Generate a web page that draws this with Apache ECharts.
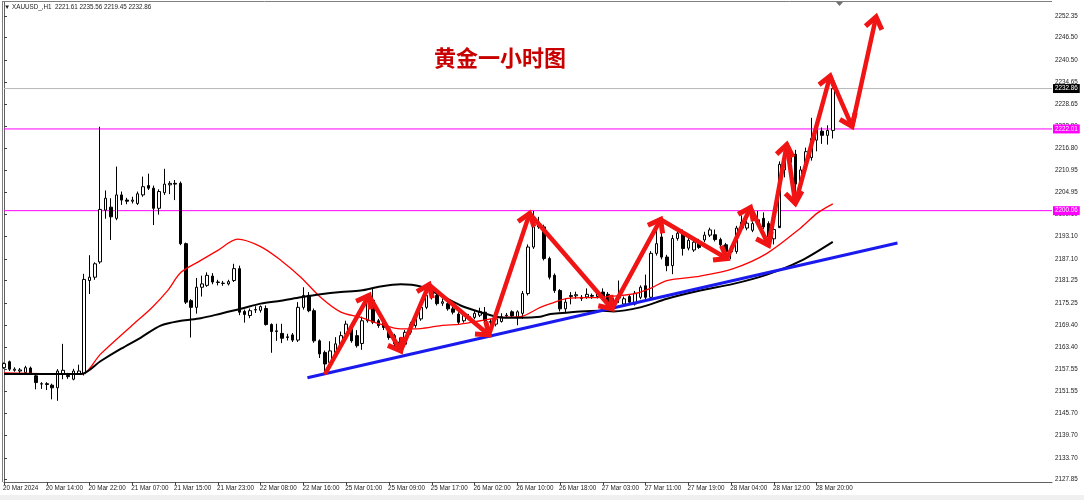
<!DOCTYPE html>
<html>
<head>
<meta charset="utf-8">
<script src="https://cdn.jsdelivr.net/npm/echarts@6/dist/echarts.min.js"></script>
<style>
html,body{margin:0;padding:0;background:#fff;}
#c{width:1084px;height:500px;}
</style>
</head>
<body>
<div id="c"></div>
<script>
// ---- data ----
const openP = [2157.9,2159.5,2157.2,2157.0,2156.6,2157.8,2155.7,2153.5,2153.6,2153.2,
2152.5,2156.3,2155.8,2154.8,2156.3,2156.3,2181.3,2182.2,2186.3,2200.2,
2201.0,2198.0,2204.3,2202.9,2202.6,2202.0,2204.3,2206.8,2206.1,2200.7,
2204.9,2207.0,2207.4,2207.4,2191.2,2175.9,2174.1,2179.5,2180.0,2182.5,
2180.9,2180.5,2180.4,2181.3,2184.5,2173.0,2171.9,2173.4,2173.3,2173.8,
2169.5,2167.6,2167.1,2166.0,2166.7,2165.3,2174.1,2177.3,2173.2,2165.1,
2162.0,2159.3,2162.0,2163.8,2166.9,2168.3,2166.5,2164.4,2170.5,2176.0,
2170.5,2170.1,2168.3,2166.5,2164.5,2164.2,2167.4,2169.2,2171.0,2174.1,
2178.6,2177.3,2175.2,2175.1,2173.7,2172.3,2170.5,2171.4,2171.4,2172.0,
2172.8,2170.1,2169.6,2170.3,2171.8,2172.9,2171.5,2172.5,2177.8,2190.3,
2197.0,2195.7,2187.2,2182.7,2178.6,2173.7,2177.0,2177.2,2176.8,2176.9,
2177.3,2177.0,2178.2,2177.6,2175.5,2176.6,2175.0,2177.0,2175.0,2176.8,
2179.9,2176.8,2188.6,2193.0,2187.6,2185.3,2192.6,2193.9,2190.0,2189.5,
2191.8,2192.2,2193.5,2193.6,2192.3,2190.9,2189.0,2189.1,2195.4,2195.4,
2194.8,2196.7,2198.0,2196.6,2192.5,2195.5,2211.0,2213.0,2215.2,2207.2,
2212.5,2214.3,2219.0,2221.4,2220.3,2221.61];
const closeP = [2159.0,2157.5,2157.5,2157.3,2157.9,2156.5,2153.9,2153.6,2153.4,2152.5,
2157.0,2157.2,2155.5,2157.0,2157.0,2181.6,2182.2,2185.8,2200.4,2203.4,
2198.4,2204.3,2202.9,2202.6,2202.9,2204.6,2206.5,2206.1,2200.7,2205.2,
2207.2,2207.4,2207.2,2191.2,2175.5,2174.1,2179.5,2180.4,2182.7,2180.9,
2180.8,2180.6,2181.0,2184.5,2172.8,2172.2,2173.2,2173.5,2174.3,2169.5,
2167.6,2167.8,2165.8,2166.2,2165.3,2174.1,2177.3,2173.2,2165.1,2161.6,
2158.9,2162.4,2164.3,2166.5,2169.6,2165.1,2163.8,2170.5,2176.4,2170.1,
2169.2,2168.7,2166.0,2164.3,2164.8,2167.4,2169.6,2171.4,2174.1,2177.3,
2176.8,2175.1,2175.6,2173.7,2172.8,2170.1,2171.9,2171.6,2172.5,2173.0,
2170.5,2170.3,2171.0,2171.6,2172.0,2171.8,2172.9,2177.8,2190.3,2195.7,
2195.7,2187.2,2182.2,2178.6,2173.7,2175.5,2177.3,2177.5,2176.5,2177.6,
2177.1,2177.9,2177.0,2175.5,2175.8,2176.9,2176.4,2175.5,2177.9,2179.5,
2176.8,2188.6,2191.2,2187.6,2185.3,2192.6,2194.0,2189.9,2192.1,2191.6,
2190.2,2193.5,2194.9,2192.3,2190.9,2189.1,2189.6,2195.4,2197.0,2196.7,
2196.6,2197.6,2195.7,2193.0,2195.0,2212.5,2213.3,2214.9,2207.2,2211.0,
2215.9,2219.5,2221.8,2220.3,2221.6,2232.86];
const lowP = [2157.6,2157.0,2156.8,2156.4,2156.2,2156.0,2152.1,2152.2,2151.9,2149.4,
2149.0,2154.8,2154.9,2154.5,2156.0,2155.8,2177.7,2181.5,2185.8,2197.9,
2192.2,2197.5,2201.6,2201.8,2202.0,2201.6,2203.8,2205.6,2196.2,2199.0,
2204.3,2204.5,2202.9,2190.8,2175.0,2166.0,2172.4,2177.0,2179.6,2180.3,
2180.0,2179.9,2180.0,2180.9,2172.0,2170.0,2171.2,2172.6,2172.7,2169.2,
2161.9,2165.1,2164.5,2165.2,2164.8,2164.8,2173.5,2172.8,2164.6,2160.5,
2157.0,2158.5,2161.5,2163.3,2166.3,2164.6,2163.3,2162.7,2170.0,2169.6,
2168.6,2168.0,2165.4,2163.5,2163.0,2163.5,2166.8,2168.6,2170.5,2173.6,
2176.2,2174.6,2174.5,2173.2,2172.2,2169.6,2170.0,2170.8,2170.9,2171.5,
2170.0,2169.0,2169.0,2170.0,2171.2,2171.3,2169.3,2171.0,2177.3,2189.8,
2195.2,2186.7,2181.6,2178.0,2173.0,2172.8,2174.9,2176.4,2175.8,2176.4,
2176.4,2176.5,2176.4,2174.9,2174.6,2175.3,2174.5,2175.0,2174.6,2176.3,
2176.3,2176.3,2188.0,2187.0,2183.8,2183.0,2192.0,2188.0,2189.4,2189.0,
2189.8,2191.6,2193.0,2191.8,2190.4,2187.6,2187.0,2188.5,2194.8,2194.8,
2194.3,2196.0,2195.1,2192.0,2191.0,2196.0,2209.0,2212.0,2205.0,2203.6,
2211.0,2213.5,2216.0,2218.0,2217.8,2219.45];
const highP = [2159.3,2159.8,2158.0,2157.8,2158.4,2158.2,2156.2,2154.0,2154.0,2153.6,
2157.5,2164.3,2156.5,2157.6,2158.7,2183.1,2188.1,2186.2,2222.6,2205.5,
2203.4,2211.9,2205.2,2203.5,2203.8,2205.2,2209.2,2210.0,2206.8,2205.8,
2211.3,2208.0,2208.3,2207.9,2191.5,2176.3,2182.0,2182.6,2183.5,2183.3,
2181.5,2181.2,2181.5,2185.8,2185.3,2173.5,2173.8,2174.4,2174.6,2174.6,
2169.8,2169.7,2169.7,2167.0,2167.2,2175.5,2179.5,2178.2,2173.8,2165.5,
2162.5,2165.0,2166.1,2167.6,2170.5,2169.8,2168.0,2171.6,2177.5,2179.0,
2171.0,2170.6,2168.8,2167.0,2166.0,2168.0,2170.2,2172.0,2174.8,2178.2,
2179.4,2177.9,2176.5,2175.8,2174.2,2172.8,2172.4,2172.3,2173.4,2174.0,
2174.2,2171.0,2171.6,2172.5,2172.6,2173.3,2173.3,2178.5,2191.0,2200.0,
2198.4,2196.3,2187.7,2183.2,2179.0,2176.5,2178.2,2178.3,2177.4,2179.2,
2177.8,2178.4,2179.2,2178.2,2176.6,2181.3,2177.0,2177.6,2178.5,2180.0,
2182.9,2189.2,2197.5,2196.0,2188.2,2193.5,2195.5,2195.0,2193.0,2192.4,
2192.5,2194.4,2195.5,2195.0,2192.8,2191.4,2190.5,2196.0,2198.8,2197.5,
2197.2,2200.0,2199.6,2197.2,2195.6,2213.3,2214.0,2216.4,2216.4,2212.0,
2217.0,2225.0,2223.0,2222.4,2223.0,2235.56];

// moving averages sampled along the drawn curves: [bar position, price]
const maRed = [[0,2156.5],[14.4,2156.2],[18.1,2161.6],[24.3,2169.7],[27.5,2173.8],[30.6,2178.6],
[33.1,2183.5],[36.8,2186.7],[40,2189.4],[43.7,2192.4],[48,2190.4],[51.8,2186.7],[55.5,2182.2],
[59.2,2176.8],[63,2172.8],[66.7,2171.4],[70.4,2169.6],[74.2,2168.3],[77.9,2168.4],[81.7,2169.2],
[85.4,2169.6],[89.1,2170.5],[92.9,2171.4],[96.6,2171.6],[100.3,2174.1],[102.2,2175.1],[105.4,2176.5],
[111.5,2176.8],[117.7,2177.7],[120.9,2179.2],[124,2181.3],[130.2,2182.5],[136.4,2184.5],[142.7,2188.6],
[148.9,2195.3],[152.1,2199.4],[155,2201.9]];
const maBlack = [[0,2156.2],[14.4,2156.2],[18.1,2159.7],[21.9,2163.0],[25.6,2166.0],[29.3,2169.2],
[33.1,2170.5],[36.8,2171.2],[40.5,2172.4],[44.3,2173.7],[48,2175.1],[51.8,2175.9],[55.5,2176.8],
[59.2,2177.6],[63,2178.2],[66.7,2178.6],[70.4,2179.7],[74.2,2180.3],[77.9,2179.7],[81.7,2177.3],
[85.4,2174.6],[89.1,2172.8],[92.9,2171.4],[96.6,2171.3],[100.3,2171.6],[102.2,2172.3],[111.5,2173.2],
[114,2173.0],[119,2174.1],[124,2176.4],[130.2,2178.6],[136.4,2180.4],[142.7,2182.9],[148.9,2186.5],
[155,2191.7]];
const trendLine = [[56.75,2155.2],[167.1,2191.4]];
const arrowPts = [[60.2,2156.6],[68.25,2177.3],[74.2,2162.4],[79.5,2180.2],[90.7,2166.7],[98.3,2199.3],
[113.7,2173.7],[122.8,2197.7],[135.2,2187.2],[139.6,2200.9],[143.0,2190.8],[146.4,2217.8],
[148.0,2202.0],[154.5,2236.2],[158.6,2222.7],[163.1,2252.1]];
const levelLines = [2232.86, 2222.01, 2200.06];
const yTickVals = [2127.85,2133.70,2139.70,2145.70,2151.55,2157.55,2163.40,2169.40,2175.25,2181.25,
2187.10,2193.10,2199.10,2204.95,2210.95,2216.80,2222.80,2228.65,2234.65,2240.50,2246.50,2252.35];
const xTickLabels = ['20 Mar 2024','20 Mar 14:00','20 Mar 22:00','21 Mar 07:00','21 Mar 15:00',
'21 Mar 23:00','22 Mar 08:00','22 Mar 16:00','25 Mar 01:00','25 Mar 09:00','25 Mar 17:00',
'26 Mar 02:00','26 Mar 10:00','26 Mar 18:00','27 Mar 03:00','27 Mar 11:00','27 Mar 19:00',
'28 Mar 04:00','28 Mar 12:00','28 Mar 20:00'];
const headerText = '\u25BC XAUUSD_,H1  2221.61 2235.56 2219.45 2232.86';
const titleText = '黄金一小时图';

// ---- build ----
const SLOTS = 197, STEP = 8;
const cats = [];
for (let i = 0; i < SLOTS; i++) cats.push(String(i));
const candleData = openP.map((o, i) => [o, closeP[i], lowP[i], highP[i]]);
const arrowSegs = [];
for (let k = 0; k < arrowPts.length - 1; k++) {
  arrowSegs.push([arrowPts[k][0], arrowPts[k][1], arrowPts[k+1][0], arrowPts[k+1][1]]);
}
const FONT = '"Liberation Sans", Arial, sans-serif';
const lastTickIdx = (xTickLabels.length - 1) * STEP;
const showTick = (idx) => idx % STEP === 0 && idx <= lastTickIdx;

const chart = echarts.init(document.getElementById('c'), null, {renderer: 'canvas'});
const lvlColors = ['#b8b8b8', '#ff00ff', '#ff00ff'];
const tagColors = ['#000000', '#ff00ff', '#ff00ff'];

const levelSeries = levelLines.map((v, k) => ({
  type: 'line', xAxisIndex: 1, data: [[0, v], [SLOTS - 1, v]], symbol: 'none', z: 1,
  silent: true,
  lineStyle: {color: lvlColors[k], width: 1},
  endLabel: {show: true, formatter: () => v.toFixed(2), distance: 1,
    backgroundColor: tagColors[k], color: '#ffffff', fontSize: 6.3, fontFamily: FONT,
    padding: [2, 2, 1, 2]}
}));

const option = {
  animation: false,
  backgroundColor: '#ffffff',
  grid: {left: 3, right: 32, top: 2, bottom: 18, show: false},
  xAxis: [{
    type: 'category', data: cats, boundaryGap: false,
    axisLine: {lineStyle: {color: '#606060', width: 1}},
    axisTick: {show: true, interval: (i) => showTick(i), length: 3, lineStyle: {color: '#404040'}},
    axisLabel: {interval: (i) => showTick(i), formatter: (v, i) => showTick(Number(v)) ? xTickLabels[Number(v) / STEP] : '',
      align: 'left', fontSize: 6.3, margin: 3, color: '#222', fontFamily: FONT, padding: [0,0,0,-1]},
    splitLine: {show: false}
  }, {
    type: 'value', min: 0, max: SLOTS - 1, show: false
  }],
  yAxis: {
    type: 'value', position: 'right', min: 2127.2, max: 2256.1, scale: true,
    axisLine: {show: true, lineStyle: {color: '#606060', width: 1}},
    axisTick: {show: true, customValues: yTickVals, length: 3, lineStyle: {color: '#404040'}},
    axisLabel: {customValues: yTickVals, formatter: (v) => v.toFixed(2), fontSize: 6.3, margin: 3,
      color: '#222', fontFamily: FONT},
    splitLine: {show: false}
  },
  series: levelSeries.concat([{
    type: 'candlestick', xAxisIndex: 0, data: candleData, barWidth: 3, z: 2,
    itemStyle: {color: '#ffffff', color0: '#000000', borderColor: '#000000', borderColor0: '#000000', borderWidth: 1}
  }, {
    type: 'line', xAxisIndex: 1, data: maRed, symbol: 'none', smooth: 0.3, z: 3,
    lineStyle: {color: '#ff0000', width: 1.3}
  }, {
    type: 'line', xAxisIndex: 1, data: maBlack, symbol: 'none', smooth: 0.3, z: 3,
    lineStyle: {color: '#000000', width: 2}
  }, {
    type: 'line', xAxisIndex: 1, data: trendLine, symbol: 'none', z: 4,
    lineStyle: {color: '#1a1aee', width: 3}
  }, {
    type: 'custom', xAxisIndex: 1, data: arrowSegs, z: 5,
    encode: {x: [0, 2], y: [1, 3]},
    renderItem: function (params, api) {
      const p1 = api.coord([api.value(0), api.value(1)]);
      const p2 = api.coord([api.value(2), api.value(3)]);
      const a = Math.atan2(p2[1] - p1[1], p2[0] - p1[0]);
      const L = 14, th = 0.64;
      const w1 = [p2[0] - L * Math.cos(a - th), p2[1] - L * Math.sin(a - th)];
      const w2 = [p2[0] - L * Math.cos(a + th), p2[1] - L * Math.sin(a + th)];
      const col = '#f01414';
      return {type: 'group', children: [
        {type: 'line', shape: {x1: p1[0], y1: p1[1], x2: p2[0] - 3 * Math.cos(a), y2: p2[1] - 3 * Math.sin(a)},
          style: {stroke: col, lineWidth: 4.5, lineCap: 'round'}},
        {type: 'polyline', shape: {points: [w1, p2, w2]},
          style: {stroke: col, lineWidth: 5, fill: null, lineJoin: 'miter', lineCap: 'butt'}}
      ]};
    }
  }]),
  graphic: [
    {type: 'rect', shape: {x: 0, y: 495, width: 1084, height: 5}, style: {fill: '#f0f0f0'}, z: -1},
    {type: 'line', shape: {x1: 2.5, y1: 1, x2: 2.5, y2: 482}, style: {stroke: '#808080', lineWidth: 1}},
    {type: 'line', shape: {x1: 2, y1: 1.5, x2: 1052, y2: 1.5}, style: {stroke: '#808080', lineWidth: 1}},
    {type: 'polygon', shape: {points: [[836, 2], [843, 2], [839.5, 6]]}, style: {fill: '#707070'}},
    {type: 'text', x: 4, y: 7, style: {text: headerText, font: '6.3px ' + FONT, fill: '#222', textVerticalAlign: 'middle'}},
    {type: 'text', x: 500, y: 58, style: {text: titleText, font: 'bold 22px "Noto Sans CJK SC"', fill: '#c80000',
      textAlign: 'center', textVerticalAlign: 'middle'}}
  ]
};
chart.setOption(option);
</script>
</body>
</html>
